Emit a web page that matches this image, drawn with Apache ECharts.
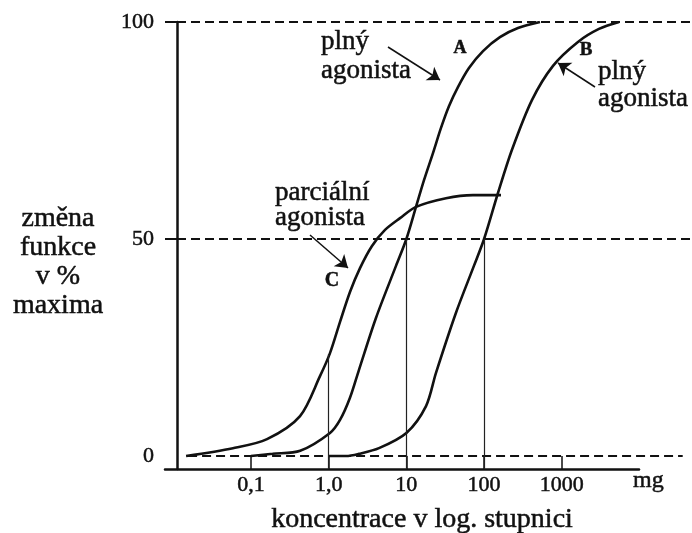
<!DOCTYPE html>
<html>
<head>
<meta charset="utf-8">
<script src="https://cdn.jsdelivr.net/npm/echarts@6/dist/echarts.min.js"></script>
<style>
html,body{margin:0;padding:0;background:#fff;}
#c{width:692px;height:533px;}
</style>
</head>
<body>
<div id="c"></div>
<script>
// ---- data ----
const tickValues = [0.1, 1, 10, 100, 1000];
const tickLabels = ['0,1', '1,0', '10', '100', '1000'];
const yLabelValues = [0, 50, 100];
const yTickValues = [50, 100];

// curve A – full agonist
const concA = [0.1, 0.19, 0.43, 1.04, 1.4, 1.88, 2.45, 4.06, 7.35, 10, 13.3, 16.9, 22, 27.9, 35.3, 46.1, 63.9, 96.9, 160, 273, 524];
const pctA  = [0,   0.5,  1.2,  5.3,  8.3, 13.4, 19.8, 31.8, 43.8, 50, 57.4, 63.6, 69.8, 75.6, 80.6, 85,   89.4, 93.3, 96.5, 98.6, 100];

// curve B – full agonist
const concB = [1, 1.67, 2.45, 4.44, 10, 17.9, 24, 43.5, 74, 100, 151, 228, 413, 771, 1615, 3010, 5450];
const pctB  = [0, 0,    0.5,  1.8,  5.3, 11.5, 19.1, 33, 43.8, 50, 60.6, 70.5, 82, 89.9, 95.4, 98.4, 100];

// curve C – partial agonist
const concC = [0.0146, 0.0586, 0.161, 0.428, 0.773, 1.04, 1.4,  1.88, 2.53, 3.61, 5.31, 8.28, 13.3, 32.4, 72,   165];
const pctC  = [0,      1.8,    3.9,   9.2,   18.4,  23.7, 30.9, 37.8, 43.3, 48.4, 52.1, 54.8, 57.4, 59.4, 60.1, 60.1];

// drop lines from the x axis to the curves
const dropConc = [1, 10, 100];
const dropPct  = [23.5, 50, 50];

// dashed reference levels
const refLevels = [50, 100];
const baseLevel = 0;

// ---- chart ----
const SERIF = "'Liberation Serif', serif";
const INK = '#111';
const Y_MIN = -3;
const INKW = 0.5; // slight ink spread like the printed original

function pairs(xs, ys) { return xs.map((x, i) => [x, ys[i]]); }

const chart = echarts.init(document.getElementById('c'), null, {renderer: 'canvas'});

const curveStyle = {width: 2.6, color: INK};

function txt(x, y, text, size, lh, align, vAlign, weight) {
  return {type: 'text', x: x, y: y, silent: true,
    style: {text: text, fontFamily: SERIF, fontSize: size, lineHeight: lh, fill: INK,
            fontWeight: weight || 'normal',
            stroke: INK, lineWidth: INKW,
            align: align, verticalAlign: vAlign, textAlign: align, textVerticalAlign: vAlign}};
}

const option = {
  animation: false,
  backgroundColor: '#fff',
  textStyle: {fontFamily: SERIF},
  grid: [
    {left: 177, right: 0, top: 22, bottom: 64, outerBoundsMode: 'none', containLabel: false},
    {left: 165, right: 53, top: 22, bottom: 64, outerBoundsMode: 'none', containLabel: false}
  ],
  xAxis: [
    {
      type: 'log',
      logBase: 10,
      gridIndex: 0,
      min: Math.pow(10, -1.952),
      max: Math.pow(10, 4.676),
      axisLine: {show: false, onZero: false},
      axisTick: {show: true, inside: true, length: 13, customValues: tickValues,
                 lineStyle: {color: INK, width: 1.5}},
      axisLabel: {
        show: true, margin: 5, customValues: tickValues,
        fontFamily: SERIF, fontSize: 22, color: INK,
        textBorderColor: INK, textBorderWidth: INKW,
        formatter: function (v) {
          const i = tickValues.findIndex(t => Math.abs(Math.log10(t) - Math.log10(v)) < 1e-6);
          return i >= 0 ? tickLabels[i] : '';
        }
      },
      splitLine: {show: false},
      minorTick: {show: false},
      minorSplitLine: {show: false},
      name: 'koncentrace v log. stupnici',
      nameLocation: 'middle',
      nameGap: 36.5,
      nameMoveOverlap: false,
      nameTextStyle: {fontFamily: SERIF, fontSize: 28, color: INK, lineHeight: 28,
                      textBorderColor: INK, textBorderWidth: INKW,
                      align: 'center', verticalAlign: 'top', padding: [0, 25, 0, 0]}
    },
    {
      type: 'value',
      gridIndex: 1,
      min: 0, max: 1,
      axisLine: {show: true, onZero: false, lineStyle: {color: INK, width: 2.5}},
      axisTick: {show: false},
      axisLabel: {show: false},
      splitLine: {show: false},
      name: 'mg',
      nameLocation: 'end',
      nameGap: -6,
      nameMoveOverlap: false,
      nameTextStyle: {fontFamily: SERIF, fontSize: 24, color: INK, lineHeight: 24,
                      textBorderColor: INK, textBorderWidth: INKW,
                      align: 'left', verticalAlign: 'top', padding: [0, 0, 0, 0]}
    }
  ],
  yAxis: [
    {
      type: 'value',
      gridIndex: 0,
      min: Y_MIN, max: 100,
      axisLine: {show: true, onZero: false, lineStyle: {color: INK, width: 2.5}},
      axisTick: {show: true, length: 12, customValues: yTickValues, lineStyle: {color: INK, width: 2}},
      axisLabel: {show: true, margin: 23, customValues: yLabelValues,
                  fontFamily: SERIF, fontSize: 22, color: INK,
                  textBorderColor: INK, textBorderWidth: INKW},
      splitLine: {show: false}
    },
    {type: 'value', gridIndex: 1, show: false, min: 0, max: 1}
  ],
  series: [
    {
      name: 'C', type: 'line', xAxisIndex: 0, yAxisIndex: 0,
      data: pairs(concC, pctC), smooth: 0.3, showSymbol: false, symbol: 'none',
      lineStyle: curveStyle, z: 3,
      markLine: {
        silent: true, symbol: 'none', label: {show: false},
        lineStyle: {color: INK, width: 2, type: [9, 5]},
        data: refLevels.map(v => ({yAxis: v})).concat([
          [{coord: [0.0155, baseLevel]}, {coord: [36000, baseLevel]}]
        ])
      }
    },
    {
      name: 'A', type: 'line', xAxisIndex: 0, yAxisIndex: 0,
      data: pairs(concA, pctA), smooth: 0.3, showSymbol: false, symbol: 'none',
      lineStyle: curveStyle, z: 3,
      markLine: {
        silent: true, symbol: 'none', label: {show: false},
        lineStyle: {color: '#222', width: 1.2, type: 'solid'},
        data: dropConc.map((c, i) => [{coord: [c, Y_MIN]}, {coord: [c, dropPct[i]]}])
      }
    },
    {
      name: 'B', type: 'line', xAxisIndex: 0, yAxisIndex: 0,
      data: pairs(concB, pctB), smooth: 0.3, showSymbol: false, symbol: 'none',
      lineStyle: curveStyle, z: 3,
      markLine: {
        silent: true, symbol: ['none', 'arrow'], symbolSize: 12, label: {show: false},
        lineStyle: {color: INK, width: 1.5, type: 'solid'},
        itemStyle: {color: INK},
        data: [
          [{x: 388, y: 47}, {x: 440, y: 80}],
          [{x: 595, y: 87}, {x: 558, y: 63}],
          [{x: 310, y: 235}, {x: 348, y: 268}]
        ]
      }
    }
  ],
  graphic: [
    // y axis title
    txt(58, 204, 'změna\nfunkce\nv %\nmaxima', 28, 29, 'center', 'top'),
    // annotations
    txt(321, 27.4, 'plný\nagonista', 27, 29, 'left', 'top'),
    txt(598, 58, 'plný\nagonista', 27, 27, 'left', 'top'),
    txt(275, 180.7, 'parciální\nagonista', 27, 25, 'left', 'top'),
    txt(460, 48, 'A', 18, 18, 'center', 'middle', 'bold'),
    txt(586, 50, 'B', 19, 19, 'center', 'middle', 'bold'),
    txt(332, 281, 'C', 20, 20, 'center', 'middle', 'bold')
  ]
};

chart.setOption(option);
</script>
</body>
</html>
